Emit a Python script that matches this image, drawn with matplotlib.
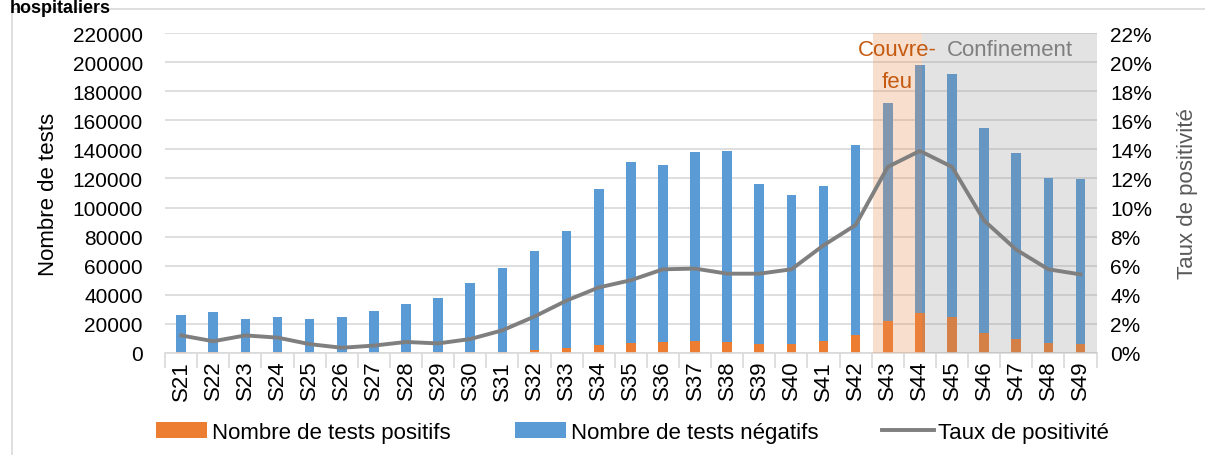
import numpy as np
import matplotlib.pyplot as plt
from matplotlib.patches import Rectangle
from matplotlib.ticker import FuncFormatter

# Weeks and values
semaines = ['S%d' % s for s in range(21, 50)]
total_tests = [26000, 28000, 23500, 24500, 23500, 24500, 29000, 33500, 37500, 48000,
               58500, 70000, 84000, 113000, 131500, 129500, 138500, 139000, 116000, 108500,
               115000, 143000, 172000, 198000, 192000, 154500, 137500, 120000, 119500]
tests_positifs = [300, 250, 300, 250, 150, 100, 150, 250, 250, 450,
                  900, 1700, 3000, 5300, 6700, 7500, 8300, 7600, 6300, 6200,
                  8500, 12500, 22000, 27500, 24500, 14000, 9700, 7000, 6300]
taux_positivite = [1.2, 0.8, 1.2, 1.05, 0.6, 0.35, 0.5, 0.75, 0.65, 0.95,
                   1.55, 2.5, 3.6, 4.5, 5.0, 5.75, 5.8, 5.45, 5.45, 5.75,
                   7.4, 8.8, 12.8, 13.9, 12.8, 9.1, 7.1, 5.75, 5.4]

tests_negatifs = [t - p for t, p in zip(total_tests, tests_positifs)]

plt.rcParams['font.family'] = ['Liberation Sans', 'DejaVu Sans']

orange = '#ED7D31'
bleu = '#5B9BD5'
gris = '#7F7F7F'

fig = plt.figure(figsize=(12.05, 4.56), dpi=100)
ax = fig.add_axes([0.137, 0.224, 0.773, 0.701])
ax2 = ax.twinx()

x = np.arange(len(semaines))
ax.bar(x, tests_positifs, width=0.3, color=orange, zorder=2, label='Nombre de tests positifs')
ax.bar(x, tests_negatifs, width=0.3, bottom=tests_positifs, color=bleu, zorder=2,
       label='Nombre de tests négatifs')

# shaded periods, drawn over the bars
ax.add_patch(Rectangle((21.55, 0), 1.53, 220000, facecolor='#E48A4E', alpha=0.28,
                       edgecolor='none', zorder=3))
ax.add_patch(Rectangle((23.08, 0), 5.42, 220000, facecolor='#8C8C8C', alpha=0.24,
                       edgecolor='none', zorder=3))
ax.text(22.3, 208500, 'Couvre-', color='#C55A11', fontsize=16, ha='center', va='center', zorder=5)
ax.text(22.3, 187000, 'feu', color='#C55A11', fontsize=16, ha='center', va='center', zorder=5)
ax.text(25.8, 208500, 'Confinement', color='#7F7F7F', fontsize=16, ha='center', va='center', zorder=5)

ax.set_xlim(-0.5, 28.5)
ax.set_ylim(0, 220000)
ax.set_yticks(range(0, 220001, 20000))
ax.yaxis.grid(True, color='#D9D9D9', linewidth=1.2, zorder=0)
ax.set_axisbelow(True)
ax.set_xticks(x)
ax.set_xticklabels(semaines, rotation=90, fontsize=16)
ax.set_xticks(np.arange(-0.5, 28.6, 1), minor=True)
ax.tick_params(axis='x', which='major', length=0, pad=5)
ax.tick_params(axis='x', which='minor', length=11, color='#D9D9D9', width=1.2)
ax.tick_params(axis='y', length=0, labelsize=15, pad=16)
ax.set_ylabel('Nombre de tests', fontsize=16, labelpad=10)
for s in ['top', 'left', 'right']:
    ax.spines[s].set_visible(False)
ax.spines['bottom'].set_color('#D9D9D9')
ax.spines['bottom'].set_linewidth(1.2)

ax2.plot(x, taux_positivite, color=gris, linewidth=2.8, zorder=6, label='Taux de positivité')
ax2.set_ylim(0, 22)
ax2.set_yticks(range(0, 23, 2))
ax2.yaxis.set_major_formatter(FuncFormatter(lambda v, p: '%d%%' % v))
ax2.tick_params(axis='y', length=0, labelsize=15, pad=10)
ax2.set_ylabel('Taux de positivité', fontsize=16, color='#595959', labelpad=18)
for s in ax2.spines.values():
    s.set_visible(False)

h1, l1 = ax.get_legend_handles_labels()
h2, l2 = ax2.get_legend_handles_labels()
fig.legend(h1 + h2, l1 + l2, loc='center', bbox_to_anchor=(0.525, 0.05), ncol=3,
           frameon=False, fontsize=16, handlelength=2.3, handletextpad=0.2,
           columnspacing=2.9)

# outer chart border and heading above it
fig.add_artist(Rectangle((0.010, -0.01), 0.995, 0.988, transform=fig.transFigure,
                         fill=False, edgecolor='#D9D9D9', linewidth=1.2))
fig.text(0.008, 0.999, 'hospitaliers', fontsize=13, fontweight='bold', va='top', ha='left')

fig.savefig('out.png', dpi=100)
